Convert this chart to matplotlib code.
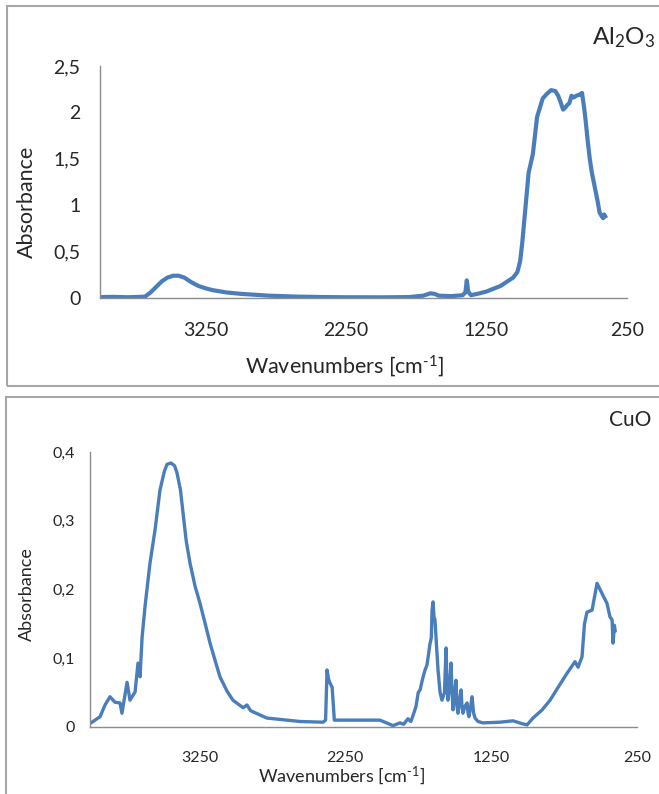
"""
FTIR absorbance spectra of Al2O3 and CuO (two stacked Excel-style panels).
Output: out.png
"""

import matplotlib

matplotlib.use("Agg")
import matplotlib.pyplot as plt
from matplotlib.patches import Rectangle
from matplotlib.ticker import FuncFormatter

plt.rcParams["font.family"] = ["Lato", "DejaVu Sans"]
plt.rcParams["mathtext.default"] = "regular"

# --- Al2O3 spectrum (wavenumber cm-1, absorbance)
al2o3_wn = [
    4000, 3900, 3800, 3720, 3680, 3640, 3600, 3560, 3520, 3480, 3440, 3400,
    3350, 3300, 3250, 3200, 3100, 3000, 2900, 2800, 2600, 2400, 2250, 2000,
    1800, 1700, 1650, 1620, 1590, 1500, 1420, 1400, 1390, 1380, 1360, 1300,
    1250, 1200, 1150, 1100, 1060, 1030, 1010, 995, 980, 965, 950, 935, 920,
    905, 890, 870, 850, 820, 790, 760, 740, 720, 705, 690, 675, 660, 645,
    630, 610, 590, 570, 555, 545, 530, 515, 500, 480, 460, 445, 430, 420,
    412, 405,
]
al2o3_abs = [
    0.010, 0.012, 0.008, 0.012, 0.015, 0.060, 0.120, 0.180, 0.220, 0.240,
    0.240, 0.220, 0.170, 0.130, 0.105, 0.085, 0.060, 0.045, 0.035, 0.025,
    0.015, 0.010, 0.008, 0.007, 0.010, 0.025, 0.050, 0.045, 0.025, 0.020,
    0.030, 0.060, 0.190, 0.070, 0.030, 0.050, 0.070, 0.100, 0.130, 0.180,
    0.220, 0.280, 0.400, 0.600, 0.850, 1.100, 1.350, 1.450, 1.550, 1.750,
    1.950, 2.050, 2.150, 2.200, 2.240, 2.230, 2.180, 2.100, 2.030, 2.050,
    2.080, 2.100, 2.180, 2.160, 2.180, 2.190, 2.210, 2.050, 1.920, 1.700,
    1.500, 1.350, 1.200, 1.050, 0.920, 0.880, 0.860, 0.900, 0.880,
]

# --- CuO spectrum
cuo_wn = [
    3993, 3931, 3897, 3863, 3829, 3794, 3781, 3746, 3726, 3691, 3671, 3657,
    3643, 3623, 3589, 3554, 3520, 3490, 3472, 3445, 3420, 3404, 3380, 3362,
    3340, 3314, 3280, 3246, 3210, 3177, 3140, 3109, 3060, 3020, 2950, 2924,
    2900, 2882, 2787, 2560, 2402, 2385, 2375, 2365, 2355, 2340, 2325, 2200,
    2012, 1923, 1875, 1850, 1820, 1800, 1780, 1765, 1750, 1737, 1720, 1703,
    1690, 1683, 1670, 1660, 1655, 1648, 1642, 1635, 1625, 1614, 1600, 1587,
    1570, 1559, 1552, 1546, 1535, 1525, 1518, 1511, 1500, 1491, 1484, 1477,
    1466, 1456, 1450, 1443, 1430, 1415, 1408, 1402, 1390, 1381, 1370, 1360,
    1340, 1306, 1189, 1100, 1040, 1004, 963, 900, 846, 790, 730, 675, 654,
    627, 610, 593, 558, 524, 503, 480, 456, 435, 421, 414, 405, 400,
]
cuo_abs = [
    0.006, 0.015, 0.032, 0.044, 0.036, 0.035, 0.020, 0.065, 0.039, 0.051,
    0.093, 0.073, 0.130, 0.175, 0.238, 0.287, 0.345, 0.372, 0.382, 0.384,
    0.380, 0.370, 0.345, 0.311, 0.270, 0.238, 0.205, 0.180, 0.150, 0.122,
    0.095, 0.073, 0.052, 0.039, 0.028, 0.032, 0.024, 0.022, 0.013, 0.008,
    0.007, 0.010, 0.083, 0.070, 0.064, 0.058, 0.010, 0.010, 0.010, 0.002,
    0.006, 0.004, 0.012, 0.008, 0.020, 0.030, 0.050, 0.054, 0.070, 0.083,
    0.090, 0.100, 0.120, 0.130, 0.170, 0.182, 0.160, 0.156, 0.120, 0.083,
    0.050, 0.039, 0.050, 0.115, 0.060, 0.039, 0.060, 0.093, 0.050, 0.025,
    0.050, 0.068, 0.030, 0.020, 0.040, 0.054, 0.030, 0.020, 0.030, 0.035,
    0.020, 0.015, 0.030, 0.044, 0.020, 0.013, 0.008, 0.006, 0.007, 0.009,
    0.005, 0.003, 0.013, 0.025, 0.039, 0.058, 0.078, 0.095, 0.087, 0.102,
    0.150, 0.167, 0.170, 0.209, 0.200, 0.190, 0.180, 0.160, 0.156, 0.122,
    0.148, 0.140,
]

x_ticks = [3250, 2250, 1250, 250]
al2o3_yticks = [0, 0.5, 1, 1.5, 2, 2.5]
cuo_yticks = [0, 0.1, 0.2, 0.3, 0.4]

LINE = "#4A7EBB"
SPINE = "#8C8C8C"
TEXT = "#262626"
W, H = 659, 794


def comma(v, _pos):
    return f"{v:g}".replace(".", ",")


def style_axes(ax, yticks, fs, xpad, ypad):
    ax.set_xlim(4000, 250)
    ax.set_ylim(yticks[0], yticks[-1])
    ax.set_xticks(x_ticks)
    ax.set_yticks(yticks)
    ax.yaxis.set_major_formatter(FuncFormatter(comma))
    for side in ("top", "right"):
        ax.spines[side].set_visible(False)
    for side in ("left", "bottom"):
        ax.spines[side].set_color(SPINE)
        ax.spines[side].set_linewidth(1.0)
    ax.tick_params(axis="x", length=0, pad=xpad, labelsize=fs, colors=TEXT)
    ax.tick_params(axis="y", length=0, pad=ypad, labelsize=fs, colors=TEXT)
    ax.patch.set_alpha(0)


fig = plt.figure(figsize=(W / 100, H / 100), dpi=100)

# panel frames
fig.patches.append(Rectangle((7 / W, 1 - 386 / H), 660 / W, 380 / H,
                             transform=fig.transFigure, fill=False,
                             edgecolor="#A6A6A6", linewidth=1.5))
fig.patches.append(Rectangle((6 / W, 1 - 820 / H), 660 / W, 423 / H,
                             transform=fig.transFigure, fill=False,
                             edgecolor="#A6A6A6", linewidth=1.5))

# top panel: Al2O3
ax1 = fig.add_axes([100 / W, 1 - 298 / H, 527 / W, 232 / H])
ax1.plot(al2o3_wn, al2o3_abs, color=LINE, linewidth=3.0, solid_joinstyle="round")
style_axes(ax1, al2o3_yticks, 14, 17, 14)
fig.text(27 / W, 1 - 202 / H, "Absorbance", rotation=90, ha="center",
         va="center", fontsize=15.5, color=TEXT)
fig.text(345 / W, 1 - 366 / H, "Wavenumbers [cm$^{‐1}$]", ha="center",
         va="center", fontsize=15.5, color=TEXT)
fig.text(655 / W, 1 - 38 / H, "Al$_2$O$_3$", ha="right", va="center",
         fontsize=17.5, color=TEXT)

# bottom panel: CuO
ax2 = fig.add_axes([90 / W, 1 - 727 / H, 547 / W, 275 / H])
ax2.plot(cuo_wn, cuo_abs, color=LINE, linewidth=2.4, solid_joinstyle="round")
style_axes(ax2, cuo_yticks, 11.5, 17, 11)
fig.text(27 / W, 1 - 594 / H, "Absorbance", rotation=90, ha="center",
         va="center", fontsize=13, color=TEXT)
fig.text(342 / W, 1 - 776 / H, "Wavenumbers [cm$^{‐1}$]", ha="center",
         va="center", fontsize=13, color=TEXT)
fig.text(651 / W, 1 - 420 / H, "CuO", ha="right", va="center",
         fontsize=15, color=TEXT)

fig.savefig("out.png", dpi=100)
